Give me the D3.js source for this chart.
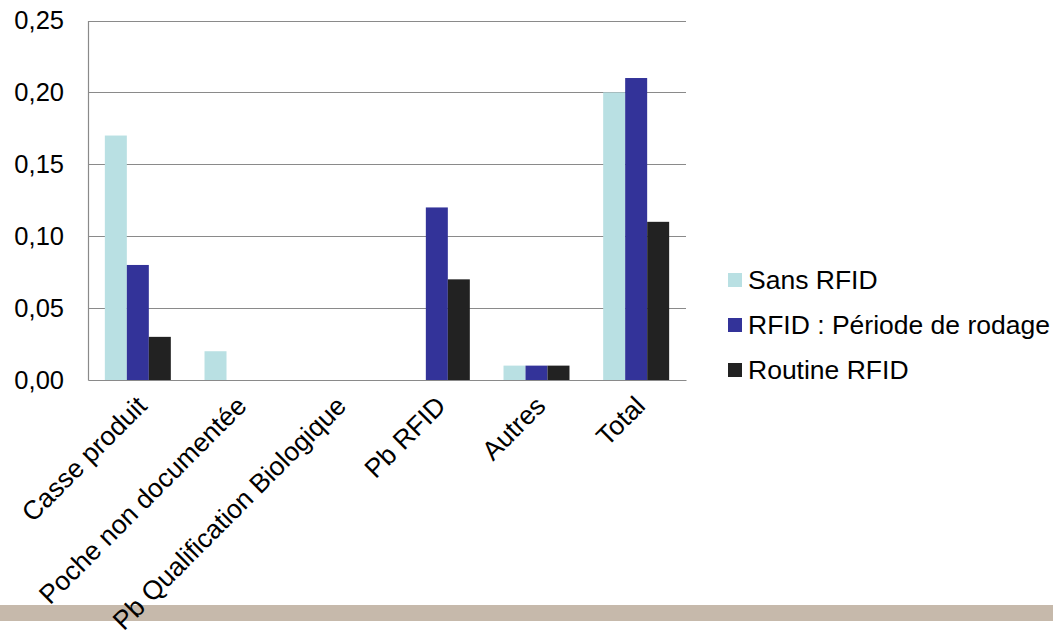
<!DOCTYPE html>
<html>
<head>
<meta charset="utf-8">
<script src="https://cdn.jsdelivr.net/npm/d3@7"></script>
<style>
  html, body { margin: 0; padding: 0; background: #ffffff; }
  svg { display: block; font-family: "Liberation Sans", Arial, sans-serif; }
</style>
</head>
<body>
<svg id="chart" width="1053" height="639"></svg>
<script>
// Categories along the x axis
const categories = ["Casse produit", "Poche non documentée", "Pb Qualification Biologique", "Pb RFID", "Autres", "Total"];

// Series names and values (one value per category)
const seriesNames = ["Sans RFID", "RFID : Période de rodage", "Routine RFID"];
const sansRfid    = [0.17, 0.02, 0.00, 0.00, 0.01, 0.20];
const rfidRodage  = [0.08, 0.00, 0.00, 0.12, 0.01, 0.21];
const routineRfid = [0.03, 0.00, 0.00, 0.07, 0.01, 0.11];

// Y axis ticks
const yTicks = [0, 0.05, 0.10, 0.15, 0.20, 0.25];

const seriesValues = [sansRfid, rfidRodage, routineRfid];
const colors = ["#b9e0e3", "#333399", "#222222"];

const svg = d3.select("#chart");
const W = 1053, H = 639;
const plot = { left: 88, right: 686, top: 20.5, bottom: 380 };

const fmt = v => d3.format(".2f")(v).replace(".", ",");

const x0 = d3.scaleBand()
  .domain(categories)
  .range([plot.left, plot.right])
  .paddingInner(0.338)
  .paddingOuter(0.169);

const x1 = d3.scaleBand()
  .domain(d3.range(seriesNames.length))
  .range([0, x0.bandwidth()]);

const y = d3.scaleLinear()
  .domain([0, 0.25])
  .range([plot.bottom, plot.top]);

// Decorative band near the bottom of the page
svg.append("rect")
  .attr("x", 0)
  .attr("y", 605)
  .attr("width", W)
  .attr("height", 16)
  .attr("fill", "#c6b9ab");

// Horizontal gridlines
svg.append("g")
  .selectAll("line")
  .data(yTicks.filter(d => d > 0))
  .join("line")
  .attr("x1", plot.left)
  .attr("x2", plot.right)
  .attr("y1", d => Math.round(y(d)) + 0.5)
  .attr("y2", d => Math.round(y(d)) + 0.5)
  .attr("stroke", "#8a8a8a")
  .attr("stroke-width", 1.2);

// Bars
const rows = categories.map((c, i) => ({ cat: c, vals: seriesValues.map(s => s[i]) }));
svg.append("g")
  .selectAll("g")
  .data(rows)
  .join("g")
  .attr("transform", d => `translate(${x0(d.cat)},0)`)
  .selectAll("rect")
  .data(d => d.vals.map((v, k) => ({ v, k })))
  .join("rect")
  .attr("x", d => x1(d.k))
  .attr("width", x1.bandwidth())
  .attr("y", d => y(d.v))
  .attr("height", d => y(0) - y(d.v))
  .attr("fill", d => colors[d.k]);

// Y axis
const yAxis = svg.append("g")
  .attr("transform", `translate(${plot.left},0)`)
  .call(d3.axisLeft(y).tickValues(yTicks).tickFormat(fmt).tickSize(0).tickPadding(24));
yAxis.select(".domain").attr("stroke", "#8a8a8a").attr("stroke-width", 1.2);
yAxis.selectAll("text")
  .attr("font-size", "25.5px")
  .attr("fill", "#000")
  .attr("font-family", "'Liberation Sans', Arial, sans-serif");

// X axis with rotated category labels
const xAxis = svg.append("g")
  .attr("transform", `translate(0,${plot.bottom})`)
  .call(d3.axisBottom(x0).tickSize(0).tickPadding(0));
xAxis.select(".domain").attr("stroke", "#8a8a8a").attr("stroke-width", 1.2);
xAxis.selectAll("text")
  .attr("font-size", "26.5px")
  .attr("fill", "#000")
  .attr("font-family", "'Liberation Sans', Arial, sans-serif")
  .attr("text-anchor", "end")
  .attr("dy", "0.35em")
  .attr("transform", "translate(4,21) rotate(-45)");

// Legend
const legend = svg.append("g")
  .attr("transform", "translate(728,273)");
const li = legend.selectAll("g")
  .data(seriesNames)
  .join("g")
  .attr("transform", (d, i) => `translate(0,${i * 45})`);
li.append("rect")
  .attr("width", 14)
  .attr("height", 14)
  .attr("fill", (d, i) => colors[i]);
li.append("text")
  .attr("x", 20)
  .attr("y", 16)
  .attr("font-size", "26.5px")
  .attr("fill", "#000")
  .text(d => d);
</script>
</body>
</html>
